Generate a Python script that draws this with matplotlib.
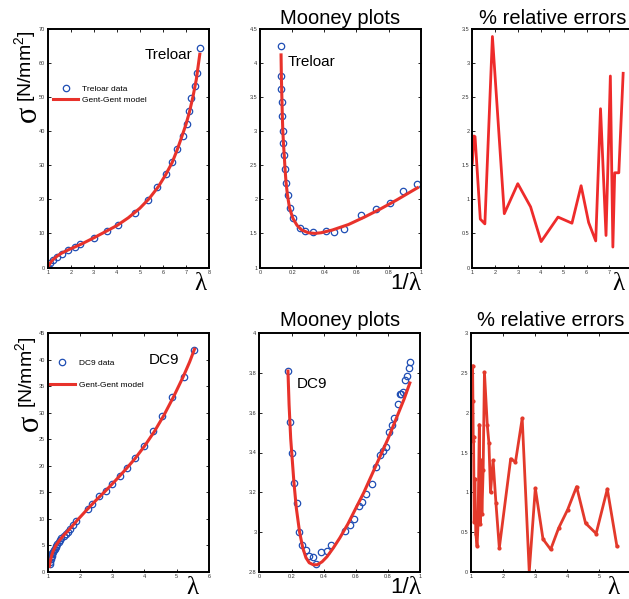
import matplotlib
matplotlib.use("Agg")
import matplotlib.pyplot as plt

plt.rcParams['font.family'] = ['Liberation Sans', 'DejaVu Sans']
plt.rcParams['mathtext.fontset'] = 'custom'
plt.rcParams['mathtext.rm'] = 'Liberation Sans'

RED = '#e8322b'
BLUE = '#1f4eb4'
GREEK = ['Liberation Serif', 'DejaVu Serif']

# --- Treloar: stress-stretch data and Gent-Gent fit
treloar_lam = [1.01, 1.12, 1.24, 1.39, 1.60, 1.90, 2.18, 2.42, 3.03, 3.57, 4.03, 4.77,
               5.36, 5.76, 6.15, 6.40, 6.61, 6.85, 7.05, 7.15, 7.23, 7.40, 7.50, 7.60]
treloar_sig = [0.2, 1.4, 2.3, 3.2, 4.1, 5.1, 6.0, 6.9, 8.8, 10.7, 12.4, 16.1,
               19.9, 23.5, 27.3, 30.9, 34.8, 38.5, 42.1, 45.8, 49.7, 53.3, 57.0, 64.4]
treloar_fit_lam = [1.0, 1.1, 1.2, 1.4, 1.6, 1.9, 2.2, 2.5, 3.0, 3.5, 4.0, 4.5, 5.0, 5.4,
                   5.8, 6.1, 6.4, 6.6, 6.8, 7.0, 7.15, 7.3, 7.45, 7.6]
treloar_fit_sig = [0.0, 1.2, 2.1, 3.3, 4.2, 5.2, 6.1, 7.0, 8.7, 10.5, 12.3, 14.6, 17.4, 20.2,
                   23.7, 27.0, 30.8, 34.2, 38.0, 42.0, 45.6, 50.0, 55.2, 62.6]

# Treloar Mooney plot
treloar_inv = [0.129, 0.131, 0.133, 0.137, 0.139, 0.141, 0.145, 0.151, 0.156, 0.162, 0.172, 0.185,
               0.207, 0.247, 0.280, 0.332, 0.411, 0.459, 0.525, 0.631, 0.720, 0.807, 0.892, 0.979]
treloar_mooney = [4.25, 3.81, 3.62, 3.43, 3.22, 3.00, 2.83, 2.65, 2.44, 2.24, 2.07, 1.87,
                  1.72, 1.58, 1.54, 1.52, 1.54, 1.52, 1.57, 1.77, 1.86, 1.95, 2.12, 2.22]
treloar_fit_inv = [0.131, 0.133, 0.135, 0.137, 0.139, 0.142, 0.146, 0.151, 0.156, 0.162, 0.171, 0.184,
                   0.205, 0.23, 0.26, 0.30, 0.34, 0.38, 0.45, 0.55, 0.65, 0.75, 0.85, 0.98]
treloar_fit_mooney = [4.12, 3.80, 3.60, 3.42, 3.22, 3.00, 2.82, 2.64, 2.44, 2.25, 2.06, 1.87,
                      1.72, 1.62, 1.55, 1.51, 1.50, 1.51, 1.55, 1.63, 1.74, 1.86, 1.99, 2.17]

# Treloar relative errors (%)
treloar_err_lam = [1.0, 1.07, 1.12, 1.35, 1.55, 1.88, 2.40, 2.99, 3.55, 4.01, 4.75,
                   5.36, 5.76, 6.09, 6.40, 6.61, 6.85, 7.04, 7.15, 7.23, 7.41, 7.60]
treloar_err = [1.53, 1.93, 1.92, 0.71, 0.64, 3.39, 0.79, 1.23, 0.89, 0.38, 0.74,
               0.65, 1.20, 0.66, 0.39, 2.33, 0.47, 2.81, 0.30, 1.39, 1.39, 2.85]

# --- DC9: stress-stretch data and Gent-Gent fit
dc9_lam = [1.066, 1.078, 1.093, 1.105, 1.119, 1.134, 1.147, 1.164, 1.192, 1.214, 1.242, 1.267,
           1.299, 1.335, 1.376, 1.425, 1.508, 1.567, 1.616, 1.70, 1.78, 1.87, 2.24, 2.38,
           2.59, 2.81, 3.00, 3.23, 3.46, 3.72, 4.00, 4.26, 4.55, 4.86, 5.21, 5.53]
dc9_sig = [1.4, 1.9, 2.4, 2.75, 3.05, 3.3, 3.5, 3.75, 4.1, 4.35, 4.65, 4.9,
           5.2, 5.55, 5.9, 6.3, 6.8, 7.2, 7.5, 8.1, 8.8, 9.5, 11.9, 12.8,
           14.2, 15.2, 16.6, 18.1, 19.6, 21.5, 23.7, 26.5, 29.3, 32.9, 36.8, 41.9]
dc9_fit_lam = [1.05, 1.08, 1.12, 1.17, 1.25, 1.35, 1.5, 1.7, 1.9, 2.2, 2.5, 2.8, 3.1,
               3.4, 3.7, 4.0, 4.3, 4.6, 4.9, 5.2, 5.4, 5.55]
dc9_fit_sig = [1.0, 2.0, 3.0, 3.9, 4.9, 5.8, 6.9, 8.2, 9.6, 11.6, 13.5, 15.3, 17.2,
               19.2, 21.3, 23.7, 26.4, 29.5, 33.0, 36.8, 39.6, 42.0]

# DC9 Mooney plot
dc9_inv = [0.178, 0.190, 0.205, 0.217, 0.234, 0.248, 0.267, 0.288, 0.306, 0.333, 0.354, 0.385,
           0.418, 0.447, 0.534, 0.561, 0.588, 0.619, 0.638, 0.663, 0.702, 0.727, 0.749, 0.770,
           0.789, 0.805, 0.824, 0.839, 0.859, 0.872, 0.882, 0.894, 0.905, 0.915, 0.928, 0.938]
dc9_mooney = [3.810, 3.553, 3.398, 3.247, 3.146, 3.002, 2.934, 2.908, 2.879, 2.872, 2.837, 2.897,
              2.904, 2.933, 3.003, 3.034, 3.066, 3.131, 3.150, 3.190, 3.239, 3.329, 3.388, 3.407,
              3.429, 3.504, 3.538, 3.575, 3.642, 3.694, 3.692, 3.706, 3.766, 3.783, 3.827, 3.855]
dc9_fit_inv = [0.178, 0.185, 0.195, 0.205, 0.215, 0.23, 0.25, 0.27, 0.29, 0.31, 0.335, 0.36,
               0.39, 0.42, 0.46, 0.50, 0.55, 0.60, 0.65, 0.70, 0.75, 0.80, 0.85, 0.90, 0.935]
dc9_fit_mooney = [3.81, 3.64, 3.47, 3.36, 3.25, 3.12, 3.00, 2.92, 2.87, 2.845, 2.835, 2.835,
                  2.85, 2.875, 2.92, 2.97, 3.04, 3.12, 3.20, 3.29, 3.38, 3.47, 3.57, 3.67, 3.75]

# DC9 relative errors (%)
dc9_err_lam = [1.05, 1.06, 1.07, 1.08, 1.10, 1.12, 1.15, 1.19, 1.22, 1.26, 1.29, 1.31,
               1.34, 1.38, 1.42, 1.51, 1.56, 1.61, 1.69, 1.78, 1.885, 2.24, 2.39, 2.60,
               2.82, 3.01, 3.25, 3.49, 3.74, 4.02, 4.30, 4.58, 4.91, 5.26, 5.56]
dc9_err = [2.59, 2.15, 1.65, 1.70, 0.63, 1.17, 0.48, 0.32, 0.60, 1.85, 0.60, 1.40,
           0.72, 1.28, 2.51, 1.84, 1.62, 1.00, 1.40, 0.86, 0.30, 1.42, 1.38, 1.93,
           0.00, 1.05, 0.41, 0.28, 0.55, 0.78, 1.07, 0.61, 0.48, 1.04, 0.32]

W, H = 629.0, 599.0


def px_axes(fig, left, top, right, bottom):
    return fig.add_axes([left / W, 1 - bottom / H, (right - left) / W, (bottom - top) / H])


def style(ax, xlim, ylim, xticks, yticks, right=True):
    ax.set_xlim(xlim)
    ax.set_ylim(ylim)
    ax.set_xticks(xticks)
    ax.set_yticks(yticks)
    ax.set_xticklabels(['%g' % v for v in xticks])
    ax.set_yticklabels(['%g' % v for v in yticks])
    ax.tick_params(direction='in', length=2.5, width=0.6, top=True, right=right,
                   labelsize=4, pad=2, labelcolor='#333333')
    for sp in ax.spines.values():
        sp.set_linewidth(1.4)


fig = plt.figure(figsize=(6.29, 5.99), dpi=100)

ax1 = px_axes(fig, 47.7, 29, 209, 267.5)
ax2 = px_axes(fig, 260, 29, 420.7, 267.5)
ax3 = px_axes(fig, 472.3, 29, 632.3, 267.5)
ax4 = px_axes(fig, 47.7, 333.3, 209, 571.7)
ax5 = px_axes(fig, 259.3, 333.3, 420.3, 571.7)
ax6 = px_axes(fig, 471, 333.3, 631, 571.7)

mk = dict(mfc='none', mec=BLUE, ms=4.6, mew=0.9)

# stress-stretch panels
ax1.plot(treloar_lam, treloar_sig, 'o', label='Treloar data', **mk)
ax1.plot(treloar_fit_lam, treloar_fit_sig, '-', color=RED, lw=2.2, label='Gent-Gent model')
style(ax1, (1, 8), (0, 70), range(1, 9), range(0, 71, 10))
ax1.legend(loc='upper left', bbox_to_anchor=(0.033, 0.766), frameon=False, fontsize=6,
           handlelength=3, handletextpad=0.5, labelspacing=0.45, borderpad=0, borderaxespad=0)
ax1.text(0.60, 0.89, 'Treloar', transform=ax1.transAxes, fontsize=11, va='center')

ax4.plot(dc9_lam, dc9_sig, 'o', label='DC9 data', **mk)
ax4.plot(dc9_fit_lam, dc9_fit_sig, '-', color=RED, lw=2.2, label='Gent-Gent model')
style(ax4, (1, 6), (0, 45), range(1, 7), range(0, 46, 5))
ax4.legend(loc='upper left', bbox_to_anchor=(0.014, 0.892), frameon=False, fontsize=6,
           handlelength=3, handletextpad=0.5, labelspacing=1.75, borderpad=0, borderaxespad=0)
ax4.text(0.628, 0.888, 'DC9', transform=ax4.transAxes, fontsize=11, va='center')

# Mooney panels
ax2.plot(treloar_inv, treloar_mooney, 'o', **mk)
ax2.plot(treloar_fit_inv, treloar_fit_mooney, '-', color=RED, lw=2.2)
style(ax2, (0, 1), (1, 4.5), [0, 0.2, 0.4, 0.6, 0.8, 1], [1, 1.5, 2, 2.5, 3, 3.5, 4, 4.5])
ax2.set_title('Mooney plots', fontsize=14.5, pad=3.5)
ax2.text(0.174, 0.862, 'Treloar', transform=ax2.transAxes, fontsize=11, va='center')

ax5.plot(dc9_inv, dc9_mooney, 'o', **mk)
ax5.plot(dc9_fit_inv, dc9_fit_mooney, '-', color=RED, lw=2.2)
style(ax5, (0, 1), (2.8, 4), [0, 0.2, 0.4, 0.6, 0.8, 1], [2.8, 3, 3.2, 3.4, 3.6, 3.8, 4])
ax5.set_title('Mooney plots', fontsize=14.5, pad=5)
ax5.text(0.234, 0.787, 'DC9', transform=ax5.transAxes, fontsize=11, va='center')

# relative error panels
ax3.plot(treloar_err_lam, treloar_err, '-', color='#ee2b2b', lw=2.0)
style(ax3, (1, 8), (0, 3.5), range(1, 9), [0, 0.5, 1, 1.5, 2, 2.5, 3, 3.5], right=False)
ax3.set_title('% relative errors', fontsize=14.5, pad=3.5)

ax6.plot(dc9_err_lam, dc9_err, '.-', color='#e3392b', lw=2.0, ms=4)
style(ax6, (1, 6), (0, 3), range(1, 7), [0, 0.5, 1, 1.5, 2, 2.5, 3], right=False)
ax6.set_title('% relative errors', fontsize=14.5, pad=5)

# axis labels
for ax, xf in ((ax1, 0.944), (ax3, 0.912), (ax4, 0.90), (ax6, 0.893)):
    ax.text(xf, -0.068, 'λ', transform=ax.transAxes, fontsize=18, family=GREEK,
            ha='center', va='center', clip_on=False)
for ax in (ax2, ax5):
    ax.text(0.962, -0.068, 'λ', transform=ax.transAxes, fontsize=18, family=GREEK,
            ha='center', va='center', clip_on=False)
    ax.text(0.928, -0.068, '1/', transform=ax.transAxes, fontsize=16,
            ha='right', va='center', clip_on=False)

for xs, ys, xb, yb in ((28.5, 114, 26, 66), (30, 423, 27, 372)):
    fig.text(xs / W, 1 - ys / H, 'σ', fontsize=22, family=GREEK, rotation=90,
             ha='center', va='center')
    fig.text(xb / W, 1 - yb / H, r'[N/mm$^{\mathrm{2}}$]', fontsize=14, rotation=90,
             ha='center', va='center')

fig.savefig('out.png', dpi=100)
